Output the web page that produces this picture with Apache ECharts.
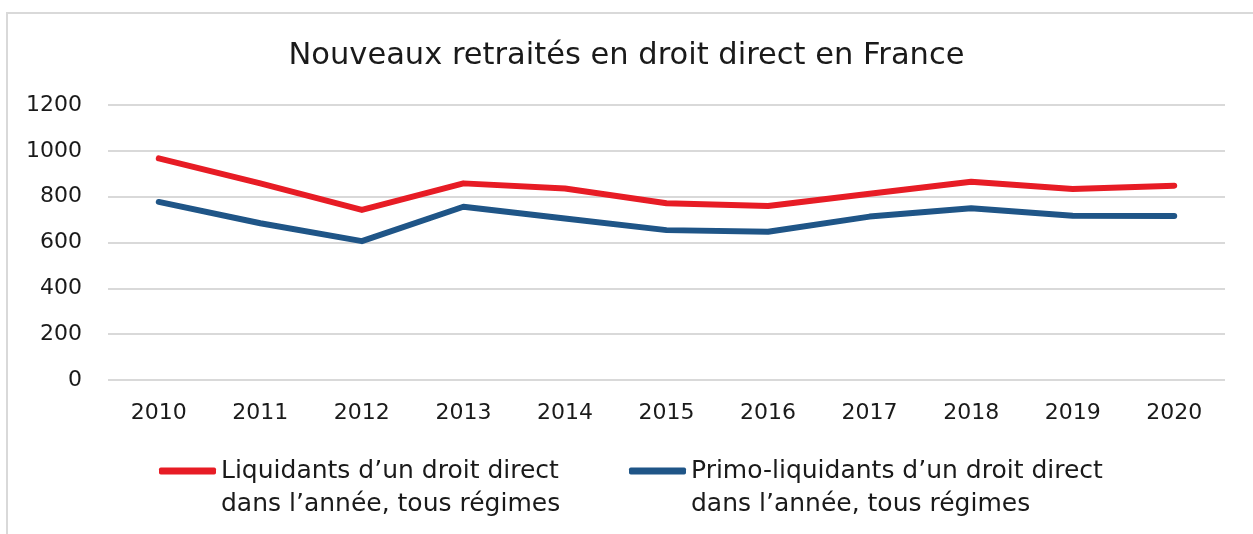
<!DOCTYPE html>
<html>
<head>
<meta charset="utf-8">
<script src="https://cdn.jsdelivr.net/npm/echarts@6/dist/echarts.min.js"></script>
<style>
html,body{margin:0;padding:0;background:#fff;}
#chart{width:1253px;height:534px;}
</style>
</head>
<body>
<div id="chart"></div>
<script>
const titleText = "Nouveaux retraités en droit direct en France";
const years = ["2010","2011","2012","2013","2014","2015","2016","2017","2018","2019","2020"];
const liquidants = [967, 858, 742, 858, 836, 771, 759, 813, 865, 833, 848];
const primoLiquidants = [777, 684, 606, 756, 705, 654, 647, 713, 749, 717, 716];
const nameLiq = "Liquidants d’un droit direct\ndans l’année, tous régimes";
const namePrimo = "Primo-liquidants d’un droit direct\ndans l’année, tous régimes";
const yTicks = {min: 0, max: 1200, interval: 200};

const FONT = "DejaVu Sans";
const TXT = '#1a1a1a';
const legendFont = 25;
const chart = echarts.init(document.getElementById('chart'), null, {renderer: 'canvas'});
const legendText = {fontFamily: FONT, fontSize: legendFont, color: TXT, lineHeight: 30};
const mkLegend = (name, left) => ({
  data: [name], left: left, top: 456, padding: 0, itemWidth: 57, itemHeight: 7,
  icon: 'roundRect', textStyle: legendText, formatter: n => n.split('\n')[0]
});
const secondLine = (name, x) => ({
  type: 'text', silent: true, left: x, top: 504 - 15,
  style: {text: name.split('\n')[1], font: legendFont + 'px "' + FONT + '"', fill: TXT, lineHeight: 30, verticalAlign: 'top'}
});
chart.setOption({
  animation: false,
  backgroundColor: '#fff',
  title: {
    text: titleText, left: 'center', top: 36,
    textStyle: {fontFamily: FONT, fontSize: 30.5, fontWeight: 'normal', color: TXT}
  },
  graphic: [{
    type: 'polyline', silent: true,
    shape: {points: [[7, 534], [7, 13], [1253, 13]]},
    style: {stroke: '#d9d9d9', lineWidth: 2, fill: null}
  }, secondLine(nameLiq, 221), secondLine(namePrimo, 691)],
  grid: {left: 108, right: 28, top: 105, bottom: 154, containLabel: false},
  legend: [mkLegend(nameLiq, 159), mkLegend(namePrimo, 629)],
  xAxis: {
    type: 'category', data: years, boundaryGap: true,
    axisLine: {show: false}, axisTick: {show: false},
    axisLabel: {fontFamily: FONT, fontSize: 22, color: TXT, margin: 22}
  },
  yAxis: {
    type: 'value', min: yTicks.min, max: yTicks.max, interval: yTicks.interval,
    axisLine: {show: false}, axisTick: {show: false},
    axisLabel: {fontFamily: FONT, fontSize: 22, color: TXT, margin: 26, formatter: v => String(v)},
    splitLine: {lineStyle: {color: '#d9d9d9', width: 2}}
  },
  series: [
    {name: nameLiq, type: 'line', data: liquidants, symbol: 'none', color: '#e71c25',
     lineStyle: {width: 6, color: '#e71c25', cap: 'round', join: 'round'}},
    {name: namePrimo, type: 'line', data: primoLiquidants, symbol: 'none', color: '#1f5587',
     lineStyle: {width: 6, color: '#1f5587', cap: 'round', join: 'round'}}
  ]
});
</script>
</body>
</html>
